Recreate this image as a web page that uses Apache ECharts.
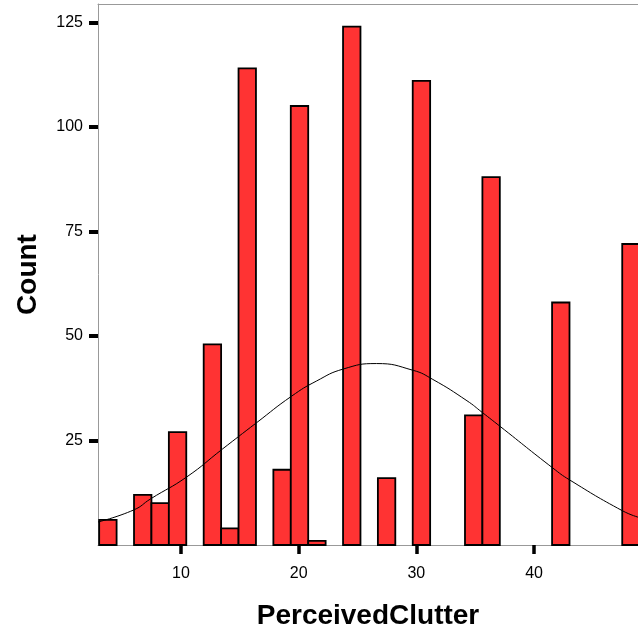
<!DOCTYPE html>
<html>
<head>
<meta charset="utf-8">
<script src="https://cdn.jsdelivr.net/npm/echarts@6/dist/echarts.min.js"></script>
<style>
  html, body { margin: 0; padding: 0; background: #fff; }
  #main { width: 638px; height: 635px; }
</style>
</head>
<body>
<div id="main"></div>
<script>
// histogram bins (lower edge of each non-empty bin) and counts
const binWidth = 1.48
const binLow = [3.05, 6.01, 7.49, 8.97, 11.93, 13.41, 14.89, 17.85, 19.33, 20.81, 23.77, 26.73, 29.69, 34.13, 35.61, 41.53, 47.49]
const counts = [6, 12, 10, 27, 48, 4, 114, 18, 105, 1, 124, 16, 111, 31, 88, 58, 72]

// normal curve
const curveX = [2.95, 6.0, 7.4, 10.5, 13.5, 16.4, 19.4, 21.5, 23.8, 26.6, 29.7, 31.4, 34.3, 35.6, 37.1, 41.6, 43.0, 47.5, 48.9]
const curveY = [5.5, 8.4, 11.0, 16.3, 22.9, 29.2, 35.6, 39.2, 42.1, 43.4, 41.8, 39.6, 34.5, 31.7, 28.4, 18.4, 15.6, 8.2, 6.6]

const xTicks = [10, 20, 30, 40]
const yTicks = [25, 50, 75, 100, 125]

const chart = echarts.init(document.getElementById('main'))

const barData = binLow.map((lo, i) => [lo, lo + binWidth, counts[i]])
const curveData = curveX.map((x, i) => [x, curveY[i]])

const labelFont = { fontFamily: 'Liberation Sans', fontSize: 16, color: '#000' }
const titleFont = { fontFamily: 'Liberation Sans', fontWeight: 'bold', fontSize: 28, color: '#000' }

chart.setOption({
  animation: false,
  grid: { left: 98, right: 0, top: 4, bottom: 90 },
  xAxis: [{
    type: 'value',
    min: 2.95,
    max: 48.83,
    name: 'PerceivedClutter',
    nameLocation: 'middle',
    nameGap: 57,
    nameTextStyle: titleFont,
    axisLine: { show: true, lineStyle: { color: '#999', width: 1 } },
    axisTick: { show: true, customValues: xTicks, length: 9, lineStyle: { color: '#000', width: 3.5 } },
    axisLabel: Object.assign({ customValues: xTicks, margin: 21 }, labelFont),
    splitLine: { show: false }
  }, {
    // top frame line only
    type: 'value',
    position: 'top',
    min: 2.95,
    max: 48.83,
    axisLine: { show: true, lineStyle: { color: '#999', width: 1 } },
    axisTick: { show: false },
    axisLabel: { show: false },
    splitLine: { show: false }
  }],
  yAxis: {
    type: 'value',
    min: 0,
    max: 129.4,
    name: 'Count',
    nameLocation: 'middle',
    nameGap: 56,
    nameTextStyle: titleFont,
    axisLine: { show: true, lineStyle: { color: '#999', width: 1 } },
    axisTick: { show: true, customValues: yTicks, length: 9, lineStyle: { color: '#000', width: 4 } },
    axisLabel: Object.assign({ customValues: yTicks, margin: 15 }, labelFont),
    splitLine: { show: false }
  },
  series: [
    {
      type: 'custom',
      data: barData,
      encode: { x: [0, 1], y: 2 },
      renderItem: function (params, api) {
        var top = api.coord([api.value(0), api.value(2)])
        var bottom = api.coord([api.value(1), 0])
        return {
          type: 'rect',
          shape: { x: top[0], y: top[1], width: bottom[0] - top[0], height: bottom[1] - top[1] },
          style: { fill: '#ff3333', stroke: '#000', lineWidth: 1.8 }
        }
      },
      z: 2
    },
    {
      type: 'line',
      data: curveData,
      smooth: true,
      symbol: 'none',
      lineStyle: { color: '#000', width: 1 },
      z: 3
    }
  ]
})
</script>
</body>
</html>
